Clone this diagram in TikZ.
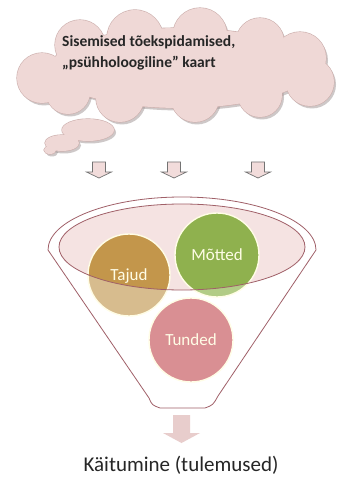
\documentclass[tikz,border=0pt]{standalone}
\usepackage{fontspec}
\setmainfont{Carlito}
\definecolor{cloudfill}{HTML}{EFD8D6}
\definecolor{cloudedge}{HTML}{CDB0AE}
\definecolor{cloudshadow}{HTML}{9E9393}
\definecolor{rimfill}{HTML}{F5E3E2}
\definecolor{funnelline}{HTML}{A06068}
\definecolor{tajudD}{HTML}{C3964B}
\definecolor{tajudL}{HTML}{D7BC8E}
\definecolor{mottedD}{HTML}{8FB14E}
\definecolor{mottedL}{HTML}{B2CC86}
\definecolor{tunded}{HTML}{D98F93}
\definecolor{labeltext}{HTML}{FFFDE6}
\definecolor{arrowfill}{HTML}{F2DCDB}
\definecolor{bigarrow}{HTML}{E8CDCC}
\tikzset{
  circlabel/.style={font=\fontsize{17}{17}\selectfont, text=labeltext, inner sep=0pt},
  cloudtext/.style={font=\fontsize{15.5}{15.5}\selectfont\bfseries, text=black!85, inner sep=0pt, anchor=base west},
  ringedge/.style={draw=labeltext, line width=1.4pt},
  arrowstyle/.style={fill=arrowfill, draw=black!55, line width=0.7pt}
}
\newcommand{\cloudshapes}[1]{%
  #1 (42,78) circle (25);
  #1 (80,45) circle (25);
  #1 (135,38) circle (28);
  #1 (200,35) circle (27);
  #1 (260,42) circle (24);
  #1 (300,58) circle (26);
  #1 (310,82) circle (24);
  #1 (260,95) circle (22);
  #1 (195,98) circle (24);
  #1 (120,98) circle (24);
  #1 (68,92) circle (22);
  #1 (180,68) ellipse [x radius=130, y radius=40];
  #1 (88,130) ellipse [x radius=26, y radius=11];
  #1 (62,143) ellipse [x radius=17, y radius=8];
  #1 (50,150) ellipse [x radius=6, y radius=4];%
}
\begin{document}
\begin{tikzpicture}[x=1pt, y=1pt, yscale=-1]
\useasboundingbox[fill=white] (0,0) rectangle (346,478);
% cloud
\begin{scope}[shift={(2,2.5)}]
  \cloudshapes{\fill[cloudshadow, opacity=0.5]}
\end{scope}
\cloudshapes{\draw[cloudedge, line width=1.2pt]}
\cloudshapes{\fill[cloudfill]}
\node[cloudtext] (t1) at (62,47) {Sisemised tõekspidamised,};
\node[cloudtext] (t2) at (62,68) {„psühholoogiline” kaart};
% small arrows
\foreach \ax in {99,174,258}{
  \path[arrowstyle, shift={(\ax,162)}]
    (-6.5,0) -- (6.5,0) -- (6.5,10) -- (12.5,10) -- (0,16) -- (-12.5,10) -- (-6.5,10) -- cycle;
}
% funnel
\path[fill=white, draw=funnelline, line width=0.8pt]
  (48,250) arc[start angle=180, end angle=360, x radius=134, y radius=53]
  -- (218,396) .. controls (213,405) .. (205,408) -- (160,408)
  .. controls (152,405) .. (149,398) -- cycle;
\fill[rimfill] (182,247) ellipse [x radius=123, y radius=43];
% circles
\fill[tajudL] (129,275) circle (41);
\fill[mottedL] (217,255) circle (42);
\begin{scope}
  \clip (182,247) ellipse [x radius=123, y radius=43];
  \fill[tajudD] (129,275) circle (41);
  \fill[mottedD] (217,255) circle (42);
\end{scope}
\draw[ringedge] (129,275) circle (41);
\draw[ringedge] (217,255) circle (42);
\fill[tunded] (191,340) circle (42);
\draw[ringedge] (191,340) circle (42);
\draw[funnelline, line width=0.8pt] (182,247) ellipse [x radius=123, y radius=43];
\node[circlabel] (tajud) at (129,276) {Tajud};
\node[circlabel] (motted) at (217,255) {Mõtted};
\node[circlabel] (tunded2) at (191,340) {Tunded};
% bottom arrow and result
\fill[bigarrow] (173,415) -- (190,415) -- (190,433) -- (200,433) -- (181.5,443) -- (163,433) -- (173,433) -- cycle;
\node[font=\fontsize{21}{21}\selectfont, text=black!85, inner sep=0pt] (result) at (181,465) {Käitumine (tulemused)};
\end{tikzpicture}
\end{document}
